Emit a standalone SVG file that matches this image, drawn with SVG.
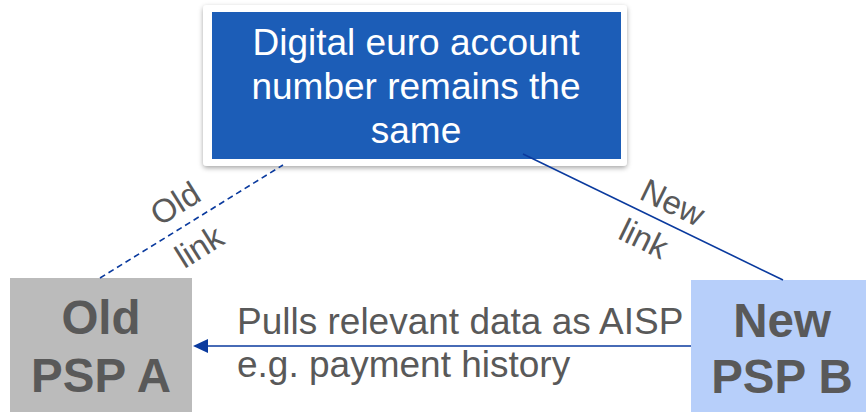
<svg xmlns="http://www.w3.org/2000/svg" width="866" height="412" viewBox="0 0 866 412">
<style>
.t{font-family:"Liberation Sans",Arial,sans-serif;}
.w{fill:#ffffff;font-size:37px;}
.g{fill:#595959;}
.b{font-weight:bold;font-size:47.5px;}
.m{font-size:37px;}
.lbl{font-size:33px;}
.ln{stroke:#0A3A9E;stroke-width:1.6;fill:none;}
</style>
<defs>
<filter id="sh" x="-10%" y="-10%" width="120%" height="130%">
<feDropShadow dx="0" dy="2" stdDeviation="2.5" flood-color="#000" flood-opacity="0.35"/>
</filter>
</defs>
<g id="account">
<rect x="203" y="5" width="424" height="161" rx="4" fill="#ffffff" filter="url(#sh)"/>
<rect x="212" y="12" width="409" height="147" fill="#1C5DB7"/>
<text class="t w" text-anchor="middle" x="416" y="55">Digital euro account</text>
<text class="t w" text-anchor="middle" x="416" y="99">number remains the</text>
<text class="t w" text-anchor="middle" x="416" y="143">same</text>
</g>
<g id="oldpsp">
<rect x="10" y="278" width="182" height="134" fill="#BBBBBB"/>
<text class="t g b" text-anchor="middle" x="101" y="334">Old</text>
<text class="t g b" text-anchor="middle" x="101" y="392">PSP A</text>
</g>
<g id="newpsp">
<rect x="691" y="280" width="175" height="132" fill="#B7CFFA"/>
<text class="t g b" text-anchor="middle" x="782" y="337">New</text>
<text class="t g b" text-anchor="middle" x="782" y="393">PSP B</text>
</g>
<g id="connectors">
<line class="ln" x1="100" y1="278" x2="283" y2="165" stroke-dasharray="6,4"/>
<line class="ln" x1="523" y1="154" x2="783" y2="280"/>
<line class="ln" x1="691" y1="346" x2="207" y2="346" stroke-width="2"/>
<path d="M193,346 L208,339 L208,353 Z" fill="#0A3A9E"/>
</g>
<g id="labels">
<text class="t g m" x="237" y="334">Pulls relevant data as AISP</text>
<text class="t g m" x="237" y="377">e.g. payment history</text>
<text class="t g lbl" text-anchor="middle" transform="translate(175,203) rotate(-32)" y="12">Old</text>
<text class="t g lbl" text-anchor="middle" transform="translate(199,246) rotate(-32)" y="12">link</text>
<text class="t g lbl" text-anchor="middle" transform="translate(673,202) rotate(26)" y="12">New</text>
<text class="t g lbl" text-anchor="middle" transform="translate(644,238) rotate(26)" y="12">link</text>
</g>
</svg>
